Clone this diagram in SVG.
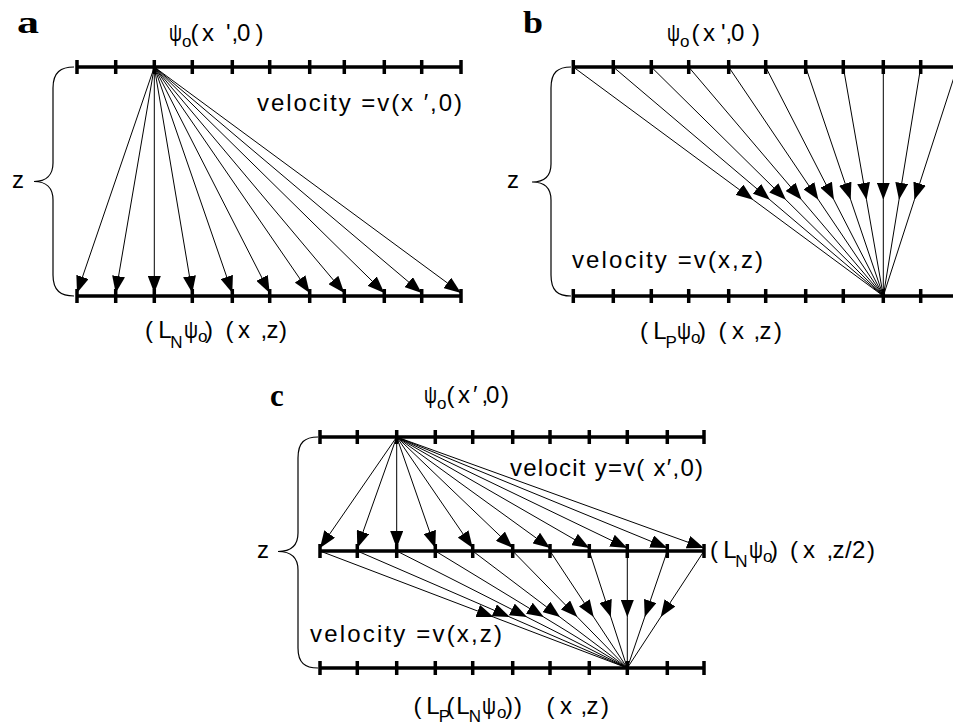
<svg xmlns="http://www.w3.org/2000/svg" width="953" height="725" viewBox="0 0 953 725">
<style>
.t{font-family:"Liberation Sans",Arial,sans-serif;font-size:24px;fill:#000}
.s{font-size:17px}
.lt{font-family:"Liberation Serif","Times New Roman",serif;font-weight:bold;font-size:31px;fill:#000}
.axis{stroke:#000;stroke-width:3.5;fill:none}
.ray{stroke:#000;stroke-width:1;fill:none}
.ra{marker-end:url(#ah)}
.rm{marker-mid:url(#ah)}
.brace{stroke:#000;stroke-width:1.2;fill:none}
</style>
<defs>
<marker id="ah" markerUnits="userSpaceOnUse" viewBox="0 0 17 13" refX="17" refY="6.5" markerWidth="17" markerHeight="13" orient="auto"><path d="M0 0L17 6.5L0 13Z" fill="#000"/></marker>
</defs>
<rect width="953" height="725" fill="#fff"/>

<!-- Panel a -->
<text class="lt" x="17" y="33" textLength="22" lengthAdjust="spacingAndGlyphs">a</text>
<g id="a-top">
<path class="axis" d="M77 67H461M77 60V74M115.7 60V74M154.3 60V74M192.3 60V74M232.3 60V74M269.7 60V74M309.7 60V74M344.3 60V74M384.3 60V74M421.7 60V74M461 60V74"/>
<text class="t"><tspan x="169" y="41" textLength="13" lengthAdjust="spacingAndGlyphs">ψ</tspan><tspan class="s" x="182" y="47">o</tspan><tspan x="190.5 202 226 231.5 237 255.5" y="41">(x',0)</tspan></text>
</g>
<g id="a-bottom">
<path class="axis" d="M77 296H461M77 289V303M115.7 289V303M154.3 289V303M192.3 289V303M232.3 289V303M269.7 289V303M309.7 289V303M344.3 289V303M384.3 289V303M421.7 289V303M461 289V303"/>
<text class="t"><tspan x="145" y="338">(</tspan><tspan x="158.3" y="338">L</tspan><tspan class="s" x="170.3" y="348">N</tspan><tspan x="184" y="338" textLength="14" lengthAdjust="spacingAndGlyphs">ψ</tspan><tspan class="s" x="198" y="342">o</tspan><tspan x="205" y="338">)</tspan><tspan x="225.5 238" y="338">(x</tspan><tspan x="260.5 266.5 279" y="338">,z)</tspan></text>
</g>
<g id="a-brace">
<path class="brace" d="M74 67C61 67 53 72 53 88L53 163C53 175 46 181.5 34 181.5C46 181.5 53 188 53 200L53 275C53 291 61 296 74 296"/>
<text class="t" x="12" y="188">z</text>
</g>
<text class="t" x="257" y="111" textLength="205" lengthAdjust="spacing">velocity =v(x ′,0)</text>

<!-- Panel b -->
<text class="lt" x="523" y="33" textLength="20" lengthAdjust="spacingAndGlyphs">b</text>
<g id="b-top">
<path class="axis" d="M573.3 67H960M573.3 60V74M613.3 60V74M651.3 60V74M688.7 60V74M728.7 60V74M765.7 60V74M805.7 60V74M843.3 60V74M883.3 60V74M920.7 60V74"/>
<text class="t"><tspan x="667" y="41" textLength="13" lengthAdjust="spacingAndGlyphs">ψ</tspan><tspan class="s" x="680" y="47">o</tspan><tspan x="691.5 703 721 725.5 731 752" y="41">(x',0)</tspan></text>
</g>
<g id="b-bottom">
<path class="axis" d="M573.3 296H960M573.3 289V303M613.3 289V303M651.3 289V303M688.7 289V303M728.7 289V303M765.7 289V303M805.7 289V303M843.3 289V303M883.3 289V303M920.7 289V303"/>
<text class="t"><tspan x="640" y="339">(</tspan><tspan x="653.3" y="339">L</tspan><tspan class="s" x="665.5" y="348">P</tspan><tspan x="677" y="339" textLength="14" lengthAdjust="spacingAndGlyphs">ψ</tspan><tspan class="s" x="691" y="343">o</tspan><tspan x="698" y="339">)</tspan><tspan x="718.5 732" y="339">(x</tspan><tspan x="753.5 759.5 774" y="339">,z)</tspan></text>
</g>
<g id="b-brace">
<path class="brace" d="M571 67C558 67 551 72 551 88L551 164C551 176 544 182 532 182C544 182 551 188 551 200L551 275C551 291 558 296 571 296"/>
<text class="t" x="507" y="188">z</text>
</g>
<text class="t" x="572" y="268" textLength="191" lengthAdjust="spacing">velocity =v(x,z)</text>

<!-- Panel c -->
<text class="lt" x="270" y="406">c</text>
<g id="c-top">
<path class="axis" d="M320 437H704M320 430V444M357.3 430V444M396.7 430V444M435.3 430V444M472.7 430V444M512.7 430V444M550 430V444M589.3 430V444M627.3 430V444M667.3 430V444M704 430V444"/>
<text class="t"><tspan x="424" y="403" textLength="13" lengthAdjust="spacingAndGlyphs">ψ</tspan><tspan class="s" x="437" y="409">o</tspan><tspan x="446.5 458 473 481.5 486 501" y="403">(x′,0)</tspan></text>
</g>
<g id="c-mid">
<path class="axis" d="M320 551H704M320 544V558M357.3 544V558M396.7 544V558M435.3 544V558M472.7 544V558M512.7 544V558M550 544V558M589.3 544V558M627.3 544V558M667.3 544V558M704 544V558"/>
<text class="t"><tspan x="710" y="558">(</tspan><tspan x="723.3" y="558">L</tspan><tspan class="s" x="735.3" y="567">N</tspan><tspan x="749" y="558" textLength="14" lengthAdjust="spacingAndGlyphs">ψ</tspan><tspan class="s" x="763" y="562">o</tspan><tspan x="770" y="558">)</tspan><tspan x="790 803" y="558">(x</tspan><tspan x="826.5 832.5 845 852 867" y="558">,z/2)</tspan></text>
</g>
<g id="c-bottom">
<path class="axis" d="M320 668H704M320 661V675M357.3 661V675M396.7 661V675M435.3 661V675M472.7 661V675M512.7 661V675M550 661V675M589.3 661V675M627.3 661V675M667.3 661V675M704 661V675"/>
<text class="t"><tspan x="413.5" y="714">(</tspan><tspan x="426.3" y="714">L</tspan><tspan class="s" x="438.7" y="722">P</tspan><tspan x="446.5" y="714">(</tspan><tspan x="456.3" y="714">L</tspan><tspan class="s" x="468.7" y="722">N</tspan><tspan x="482" y="714" textLength="14" lengthAdjust="spacingAndGlyphs">ψ</tspan><tspan class="s" x="497" y="718">o</tspan><tspan x="505 514" y="714">))</tspan><tspan x="546.5 560" y="714">(x</tspan><tspan x="580.5 586.5 601" y="714">,z)</tspan></text>
</g>
<g id="c-brace">
<path class="brace" d="M318 437C305 437 298 442 298 458L298 533C298 545 291 551.5 278 551.5C291 551.5 298 558 298 570L298 648C298 663 305 668 318 668"/>
<text class="t" x="257" y="558">z</text>
</g>
<text class="t" x="510" y="476" textLength="193" lengthAdjust="spacing">velocit y=v( x′,0)</text>
<text class="t" x="310" y="642" textLength="192" lengthAdjust="spacing">velocity =v(x,z)</text>

<g id="connectors" class="ray">
<path class="ra" d="M154.3 67L77 293"/>
<path class="ra" d="M154.3 67L115.7 293"/>
<path class="ra" d="M154.3 67L154.3 293"/>
<path class="ra" d="M154.3 67L192.3 293"/>
<path class="ra" d="M154.3 67L232.3 293"/>
<path class="ra" d="M154.3 67L269.7 293"/>
<path class="ra" d="M154.3 67L309.7 293"/>
<path class="ra" d="M154.3 67L344.3 293"/>
<path class="ra" d="M154.3 67L384.3 293"/>
<path class="ra" d="M154.3 67L421.7 293"/>
<path class="ra" d="M154.3 67L461 293"/>

<path class="rm" d="M573.3 67L753.1 199.8L883.3 296"/>
<path class="rm" d="M613.3 67L769.9 199.8L883.3 296"/>
<path class="rm" d="M651.3 67L785.9 199.8L883.3 296"/>
<path class="rm" d="M688.7 67L801.6 199.8L883.3 296"/>
<path class="rm" d="M728.7 67L818.4 199.8L883.3 296"/>
<path class="rm" d="M765.7 67L833.9 199.8L883.3 296"/>
<path class="rm" d="M805.7 67L850.7 199.8L883.3 296"/>
<path class="rm" d="M843.3 67L866.5 199.8L883.3 296"/>
<path class="rm" d="M883.3 67L883.3 199.8L883.3 296"/>
<path class="rm" d="M920.7 67L899 199.8L883.3 296"/>
<path class="rm" d="M957.3 67L914.4 199.8L883.3 296"/>

<path class="ra" d="M396.7 437L320 548"/>
<path class="ra" d="M396.7 437L357.3 548"/>
<path class="ra" d="M396.7 437L396.7 548"/>
<path class="ra" d="M396.7 437L435.3 548"/>
<path class="ra" d="M396.7 437L472.7 548"/>
<path class="ra" d="M396.7 437L512.7 548"/>
<path class="ra" d="M396.7 437L550 548"/>
<path class="ra" d="M396.7 437L589.3 548"/>
<path class="ra" d="M396.7 437L627.3 548"/>
<path class="ra" d="M396.7 437L667.3 548"/>
<path class="ra" d="M396.7 437L704 548"/>

<path class="rm" d="M320 551L493.6 617.1L627.3 668"/>
<path class="rm" d="M357.3 551L509.9 617.1L627.3 668"/>
<path class="rm" d="M396.7 551L527 617.1L627.3 668"/>
<path class="rm" d="M435.3 551L543.8 617.1L627.3 668"/>
<path class="rm" d="M472.7 551L560 617.1L627.3 668"/>
<path class="rm" d="M512.7 551L577.4 617.1L627.3 668"/>
<path class="rm" d="M550 551L593.7 617.1L627.3 668"/>
<path class="rm" d="M589.3 551L610.8 617.1L627.3 668"/>
<path class="rm" d="M627.3 551L627.3 617.1L627.3 668"/>
<path class="rm" d="M667.3 551L644.7 617.1L627.3 668"/>
<path class="rm" d="M704 551L660.7 617.1L627.3 668"/>
</g>
</svg>
